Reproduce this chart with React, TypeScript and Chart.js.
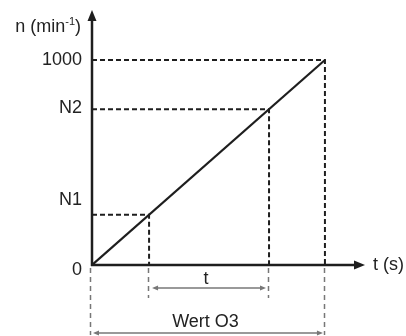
import React, { useEffect, useRef } from 'react';
import { Chart, registerables } from 'chart.js';

Chart.register(...registerables);

// ---- data ----
const rampT = [0, 1000];            // time values of the ramp (s, scaled)
const rampN = [0, 1000];            // speed values of the ramp (min^-1)
const levelValues = [245, 760, 1000]; // N1, N2, 1000
const yTickValues = [0, 245, 760, 1000];
const yTickLabels = ['0', 'N1', 'N2', '1000'];
const xAxisMax = 1172;
const yAxisMax = 1244;
const xAxisTitle = 't (s)';
const yAxisTitleParts = ['n (min', '-1', ')'];
const spanLabels = ['t', 'Wert O3'];
const spanStarts = [245, 0];
const spanEnds = [760, 1000];

const INK = '#1e1e1e';
const GREY = '#777777';
const FONT = '"Liberation Sans", Arial, Helvetica, sans-serif';

function arrowHead(ctx: CanvasRenderingContext2D, tipX: number, tipY: number, dx: number, dy: number, len: number, half: number) {
  const bx = tipX - dx * len, by = tipY - dy * len;
  const px = -dy, py = dx;
  ctx.beginPath();
  ctx.moveTo(tipX, tipY);
  ctx.lineTo(bx + px * half, by + py * half);
  ctx.lineTo(bx - px * half, by - py * half);
  ctx.closePath();
  ctx.fill();
}

const diagramPlugin = {
  id: 'diagram',
  afterDatasetsDraw(chart: any) {
    const ctx: CanvasRenderingContext2D = chart.ctx;
    const xs = chart.scales.x, ys = chart.scales.y;
    const X = (v: number) => xs.getPixelForValue(v);
    const Y = (v: number) => ys.getPixelForValue(v);
    const area = chart.chartArea;
    const x0 = X(0), y0 = Y(0);
    ctx.save();

    // grey dashed extension lines below the axis
    ctx.strokeStyle = GREY;
    ctx.lineWidth = 1.5;
    ctx.setLineDash([5, 4]);
    const ext = [
      { v: spanStarts[0], depth: 33 },
      { v: spanEnds[0], depth: 33 },
      { v: spanStarts[1], depth: 70 },
      { v: spanEnds[1], depth: 70 },
    ];
    ext.forEach(e => {
      const px = Math.round(X(e.v)) - 0.5 + (e.v === 0 ? -1 : 0);
      ctx.beginPath();
      ctx.moveTo(px, y0 + 3);
      ctx.lineTo(px, y0 + e.depth);
      ctx.stroke();
    });
    ctx.setLineDash([]);

    // dimension arrows
    const arrowYs = [y0 + 23, y0 + 68];
    const labelYs = [y0 + 14, y0 + 57];
    ctx.lineWidth = 1.5;
    ctx.fillStyle = GREY;
    spanLabels.forEach((lab, i) => {
      const a = X(spanStarts[i]) + (i === 0 ? 3 : 1);
      const b = X(spanEnds[i]) - (i === 0 ? 3 : 2);
      const yy = arrowYs[i];
      ctx.strokeStyle = GREY;
      ctx.beginPath();
      ctx.moveTo(a + 3, yy);
      ctx.lineTo(b - 3, yy);
      ctx.stroke();
      arrowHead(ctx, a, yy, -1, 0, 6, 2.5);
      arrowHead(ctx, b, yy, 1, 0, 6, 2.5);
    });

    // axes
    ctx.strokeStyle = INK;
    ctx.fillStyle = INK;
    ctx.lineWidth = 2.5;
    ctx.beginPath();
    ctx.moveTo(x0, y0 + 1);
    ctx.lineTo(x0, area.top + 8);
    ctx.stroke();
    arrowHead(ctx, x0, area.top, 0, -1, 11, 4.5);
    ctx.beginPath();
    ctx.moveTo(x0 - 1, y0);
    ctx.lineTo(area.right - 8, y0);
    ctx.stroke();
    arrowHead(ctx, area.right, y0, 1, 0, 11, 4.5);

    // texts
    ctx.fillStyle = '#222222';
    ctx.font = `18px ${FONT}`;
    ctx.textBaseline = 'middle';
    ctx.textAlign = 'right';
    const labelShift = [5, -15, -1, 0];
    yTickValues.forEach((v, i) => {
      ctx.fillText(yTickLabels[i], 82, Y(v) + labelShift[i]);
    });
    ctx.textAlign = 'left';
    ctx.fillText(xAxisTitle, area.right + 8, y0);

    // y title with superscript
    ctx.textBaseline = 'alphabetic';
    const baseY = area.top + 22;
    const p0 = yAxisTitleParts[0], p1 = yAxisTitleParts[1], p2 = yAxisTitleParts[2];
    ctx.font = `18px ${FONT}`;
    const w0 = ctx.measureText(p0).width;
    const w2 = ctx.measureText(p2).width;
    ctx.font = `11px ${FONT}`;
    const w1 = ctx.measureText(p1).width;
    const right = 81;
    const start = right - (w0 + w1 + w2);
    ctx.font = `18px ${FONT}`;
    ctx.fillText(p0, start, baseY);
    ctx.font = `11px ${FONT}`;
    ctx.fillText(p1, start + w0, baseY - 7);
    ctx.font = `18px ${FONT}`;
    ctx.fillText(p2, start + w0 + w1, baseY);

    ctx.textAlign = 'center';
    ctx.textBaseline = 'middle';
    spanLabels.forEach((lab, i) => {
      ctx.fillText(lab, (X(spanStarts[i]) + X(spanEnds[i])) / 2 - 3, labelYs[i]);
    });

    ctx.restore();
  },
};

export default function App() {
  const ref = useRef<HTMLCanvasElement | null>(null);
  useEffect(() => {
    document.body.style.margin = '0';
    const canvas = ref.current!;
    const guideSets = levelValues.map(v => ({
      data: [{ x: 0, y: v }, { x: v, y: v }, { x: v, y: 0 }],
      borderColor: INK,
      borderWidth: 2,
      borderDash: [5, 3],
      pointRadius: 0,
      tension: 0,
      fill: false,
    }));
    const chart = new Chart(canvas, {
      type: 'line',
      data: {
        datasets: [
          {
            data: rampT.map((t, i) => ({ x: t, y: rampN[i] })),
            borderColor: INK,
            borderWidth: 2.2,
            pointRadius: 0,
            tension: 0,
            fill: false,
          },
          ...guideSets,
        ],
      },
      options: {
        animation: false,
        responsive: false,
        devicePixelRatio: 1,
        layout: { padding: { left: 92, right: 41, top: 10, bottom: 71 } },
        plugins: { legend: { display: false }, tooltip: { enabled: false } },
        scales: {
          x: { type: 'linear', min: 0, max: xAxisMax, display: false },
          y: { type: 'linear', min: 0, max: yAxisMax, display: false },
        },
      },
      plugins: [diagramPlugin],
    });
    return () => chart.destroy();
  }, []);
  return (
    <div style={{ position: 'absolute', left: 0, top: 0, width: 406, height: 336, background: '#fff' }}>
      <canvas ref={ref} width={406} height={336} style={{ width: 406, height: 336, display: 'block' }} />
    </div>
  );
}
